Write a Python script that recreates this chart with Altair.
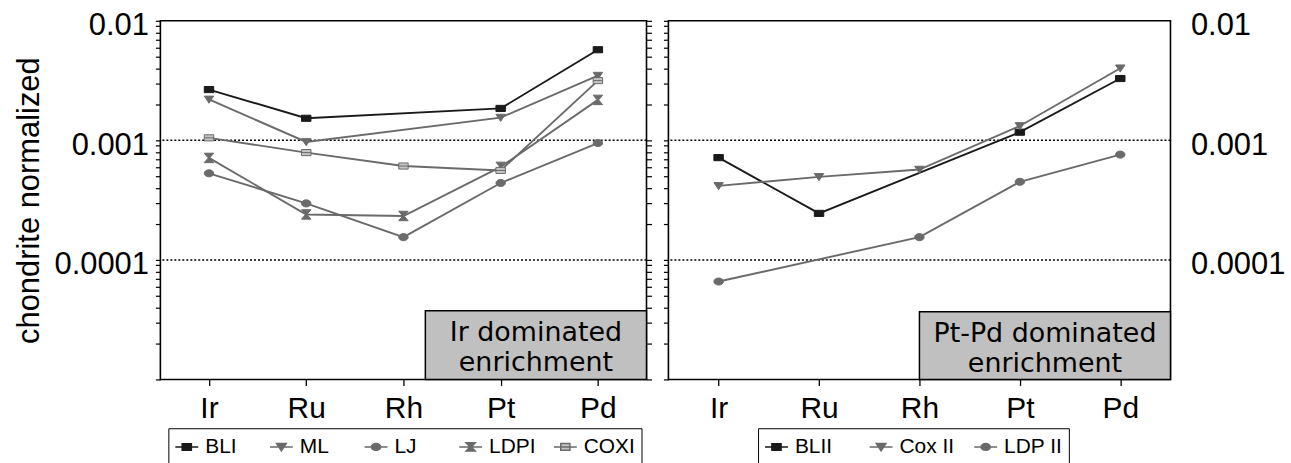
import altair as alt
import pandas as pd

# ---------------- data ----------------
elements = ["Ir", "Ru", "Rh", "Pt", "Pd"]

left_series = ["BLI", "ML", "LJ", "LDPI", "COXI"]
bli = [0.00266, 0.00153, None, 0.00185, 0.00573]
ml = [0.00220, 0.00097, None, 0.00155, 0.00348]
lj = [0.00053, 0.000297, 0.000155, 0.00044, 0.00095]
ldpi = [0.000713, 0.00024, 0.000233, 0.00060, 0.00218]
coxi = [0.00105, 0.00079, 0.00061, 0.00056, 0.00316]

right_series = ["BLII", "Cox II", "LDP II"]
blii = [0.000717, 0.000245, None, 0.00117, 0.00329]
cox2 = [0.000416, 0.000495, 0.00057, 0.00132, 0.00401]
ldp2 = [0.0000659, None, 0.000155, 0.00045, 0.00076]

y_domain = [0.00001, 0.01]
grid_values = [0.001, 0.0001]
tick_values = [m * 10.0 ** e for e in (-5, -4, -3) for m in range(1, 10)] + [0.01]

left_box_text = "Ir dominated\nenrichment"
right_box_text = "Pt-Pd dominated\nenrichment"

# ---------------- styles ----------------
FONT = "Liberation Sans"
DARK = "#1a1a1a"
GRAY = "#6a6a6a"
LIGHT = "#c4c4c4"

SQ = "M-1,-0.65H1V0.65H-1Z"
TRI = "M-1,-0.7H1L0,0.8Z"
CIR = "M1,0A1,0.75 0 1,1 -1,0A1,0.75 0 1,1 1,0Z"
HOUR = "M-1,-1H1L0.15,0L1,1H-1L-0.15,0Z"
OSQ = "M-1,-0.65H1V0.65H-1Z M-1,0H1"

L_SQ = "M-1,0H1M-0.4,-0.28H0.4V0.28H-0.4Z"
L_TRI = "M-1,0H1M-0.42,-0.3H0.42L0,0.34Z"
L_CIR = "M-1,0H1M0.4,0A0.4,0.3 0 1,1 -0.4,0A0.4,0.3 0 1,1 0.4,0Z"
L_HOUR = "M-1,0H1M-0.4,-0.36H0.4L0.06,0L0.4,0.36H-0.4L-0.06,0Z"
L_OSQ = "M-1,0H1M-0.4,-0.3H0.4V0.3H-0.4Z"

label_expr = ("abs(datum.value-0.01)<1e-9 ? '0.01' : "
              "abs(datum.value-0.001)<1e-10 ? '0.001' : "
              "abs(datum.value-0.0001)<1e-11 ? '0.0001' : ''")


def build_df(series, values):
    rows = []
    for s, vals in zip(series, values):
        for i, (el, v) in enumerate(zip(elements, vals)):
            if v is not None:
                rows.append({"series": s, "element": el, "value": v, "idx": i})
    return pd.DataFrame(rows)


def panel(series, values, strokes, fills, marks, leg_marks, width, left_axis,
          right_axis, legend_x, legend_y, columns, col_pad, box, text_pos,
          box_text):
    df = build_df(series, values)

    def yscale():
        return alt.Scale(type="log", domain=y_domain, nice=False)

    xenc = alt.X("element:O",
                 scale=alt.Scale(type="point", domain=elements, padding=0.5),
                 axis=alt.Axis(title=None, labelAngle=0, labelFont=FONT,
                               labelFontSize=30, labelColor="black",
                               labelPadding=8, tickSize=6, tickColor="black",
                               tickWidth=1.3, domain=False, grid=False))
    stroke_scale = alt.Scale(domain=series, range=strokes)
    fill_scale = alt.Scale(domain=series, range=fills)

    grid_df = pd.DataFrame({"v": grid_values})
    grid = alt.Chart(grid_df).mark_rule(color="black", strokeDash=[2, 2],
                                        strokeWidth=1.5).encode(
        y=alt.Y("v:Q", scale=yscale(), axis=right_axis)
    )

    leg = alt.Legend(title=None, orient="none", legendX=legend_x, legendY=legend_y,
                     direction="horizontal", columns=columns, gridAlign="all",
                     columnPadding=col_pad, strokeColor="black", padding=6,
                     labelFont=FONT, labelFontSize=21, labelColor="black",
                     labelOffset=6, symbolSize=529, symbolStrokeWidth=1.5)
    legend_layer = alt.Chart(df).transform_filter("false").mark_point(
        filled=True, opacity=1).encode(
        x=xenc,
        y=alt.Y("value:Q", scale=yscale(), axis=None),
        fill=alt.Fill("series:N", scale=fill_scale, legend=leg),
        stroke=alt.Stroke("series:N", scale=stroke_scale, legend=leg),
        shape=alt.Shape("series:N", scale=alt.Scale(domain=series, range=leg_marks),
                        legend=leg),
    )

    lines = alt.Chart(df).mark_line(strokeWidth=1.9).encode(
        x=xenc,
        y=alt.Y("value:Q", scale=yscale(), axis=left_axis),
        stroke=alt.Stroke("series:N", scale=stroke_scale),
        order=alt.Order("idx:Q"),
    )
    pts = []
    for s, m in zip(series, marks):
        pts.append(
            alt.Chart(df).transform_filter(alt.datum.series == s)
            .mark_point(shape=m, size=90, filled=True, opacity=1, strokeWidth=1)
            .encode(
                x=xenc,
                y=alt.Y("value:Q", scale=yscale(), axis=None),
                fill=alt.Fill("series:N", scale=fill_scale),
                stroke=alt.Stroke("series:N", scale=stroke_scale),
            )
        )

    ann_df = pd.DataFrame({"label": [box_text]})
    rect = alt.Chart(ann_df).mark_rect(fill="#c0c0c0", stroke="black",
                                       strokeWidth=1.5).encode(
        x=alt.value(box[0]), x2=alt.value(box[1]),
        y=alt.value(box[2]), y2=alt.value(box[3]))
    txt = alt.Chart(ann_df).mark_text(font="DejaVu Sans", fontSize=27,
                                      lineHeight=31, lineBreak="\n",
                                      align="center", baseline="alphabetic",
                                      color="black").encode(
        x=alt.value(text_pos[0]), y=alt.value(text_pos[1]), text="label:N")
    return alt.layer(grid, legend_layer, lines, *pts, rect, txt).resolve_scale(
        y="independent").properties(width=width, height=360)


tick_axis_common = dict(values=tick_values, tickSize=5, tickColor="black",
                        tickWidth=1.2, grid=False, domain=False,
                        labelOverlap=False, labelFlush=False)

left_main_axis = alt.Axis(orient="left", labelExpr=label_expr, labelFont=FONT,
                          labelFontSize=31, labelColor="black", labelPadding=7,
                          labelOffset=5, title="chondrite normalized",
                          titleFont=FONT, titleFontSize=31,
                          titleFontWeight="normal", titleColor="black",
                          titlePadding=9, **tick_axis_common)
left_right_axis = alt.Axis(orient="right", labels=False, title=None,
                           **tick_axis_common)
right_left_axis = alt.Axis(orient="left", labels=False, title=None,
                           **tick_axis_common)
right_right_axis = alt.Axis(orient="right", values=tick_values, ticks=False,
                            labelExpr=label_expr, labelFont=FONT, labelFontSize=31,
                            labelColor="black", labelPadding=20, labelOffset=5,
                            grid=False, domain=False, title=None,
                            labelOverlap=False, labelFlush=False)

left = panel(left_series, [bli, ml, lj, ldpi, coxi],
             [DARK, GRAY, GRAY, GRAY, GRAY],
             [DARK, GRAY, GRAY, GRAY, LIGHT],
             [SQ, TRI, CIR, HOUR, OSQ],
             [L_SQ, L_TRI, L_CIR, L_HOUR, L_OSQ],
             488, left_main_axis, left_right_axis, 8, 409, 5, 10,
             (266, 488, 291, 360), (377, 321), left_box_text)

right = panel(right_series, [blii, cox2, ldp2],
              [DARK, GRAY, GRAY],
              [DARK, GRAY, GRAY],
              [SQ, TRI, CIR],
              [L_SQ, L_TRI, L_CIR],
              504, right_left_axis, right_right_axis, 90, 409, 3, 13,
              (252, 504, 292, 360), (378, 322), right_box_text)

chart = alt.hconcat(left, right, spacing=8).resolve_scale(
    fill="independent", stroke="independent", shape="independent"
).properties(
    padding={"left": 12, "top": 8, "right": 5, "bottom": 0}
).configure_view(stroke="black", strokeWidth=1.6)

chart.save("out.html", embed_options={"renderer": "svg", "actions": False})
